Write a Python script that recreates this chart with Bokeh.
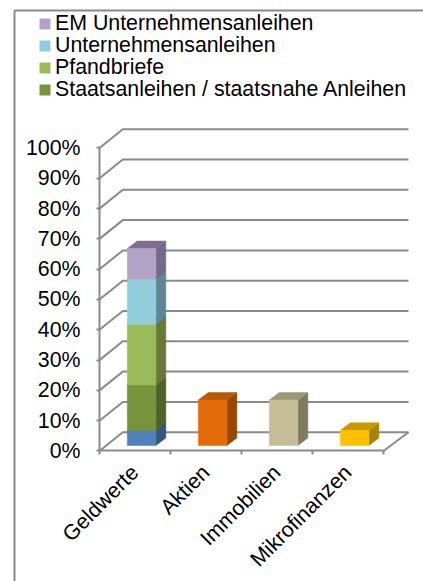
from bokeh.plotting import figure
from bokeh.embed import file_html
from bokeh.resources import INLINE
from bokeh.models import LinearAxis, FixedTicker, PrintfTickFormatter, Legend, LegendItem, Range1d

categories = ["Geldwerte", "Aktien", "Immobilien", "Mikrofinanzen"]
percent_ticks = [0, 10, 20, 30, 40, 50, 60, 70, 80, 90, 100]

# stacked segments of the first bar, bottom to top
basis = [5, 0, 0, 0]
staatsanleihen = [15, 0, 0, 0]
pfandbriefe = [20, 0, 0, 0]
unternehmensanleihen = [15, 0, 0, 0]
em_unternehmensanleihen = [10, 0, 0, 0]
aktien = [0, 15, 0, 0]
immobilien = [0, 0, 15, 0]
mikrofinanzen = [0, 0, 0, 5]

series = [
    (None, basis, "#4f81bd", "#35577f", "#35577f"),
    ("Staatsanleihen / staatsnahe Anleihen", staatsanleihen, "#77933c", "#4f6228", "#4f6228"),
    ("Pfandbriefe", pfandbriefe, "#9bbb59", "#66793b", "#66793b"),
    ("Unternehmensanleihen", unternehmensanleihen, "#92cddc", "#5f8693", "#5f8693"),
    ("EM Unternehmensanleihen", em_unternehmensanleihen, "#b2a2c7", "#75698a", "#7d6d90"),
    (None, aktien, "#e36c09", "#984807", "#b55a0a"),
    (None, immobilien, "#c4bd97", "#7f7b62", "#9c9779"),
    (None, mikrofinanzen, "#ffc000", "#a78400", "#c99a00"),
]

GRID = "#8a8a8a"
FONT = "Liberation Sans"
WALL_DX, WALL_DX_RIGHT, WALL_DY = 0.328, 0.352, 6.2  # oblique depth of the chart box, in data units
BAR_X, BAR_Y = 0.093, 1.8          # bar plane offset from the front of the box
BAR_W = 0.403
BAR_DX, BAR_DY = 0.14, 2.5         # bar depth
X_MIN, X_MAX, Y_MIN, Y_MAX = -1.3944, 4.5634, -43.07, 148.68
FRAME_X, FRAME_Y = -1.197, 145.4
LEGEND_ROWS = {
    "Staatsanleihen / staatsnahe Anleihen": 479,
    "Pfandbriefe": 501,
    "Unternehmensanleihen": 523,
    "EM Unternehmensanleihen": 545,
}

p = figure(width=423, height=581, output_backend="svg", toolbar_location=None,
           x_range=Range1d(X_MIN, X_MAX), y_range=Range1d(Y_MIN, Y_MAX),
           min_border=0, min_border_left=0, min_border_right=0, min_border_top=0, min_border_bottom=0,
           outline_line_color=None, x_axis_location=None, y_axis_location=None)
p.grid.visible = False

# outer frame: only its left and top sides are in view
p.line([FRAME_X, FRAME_X, X_MAX], [Y_MIN, FRAME_Y, FRAME_Y], line_color=GRID, line_width=2)

# oblique grid: wall lines and back lines
n = len(categories)
xs = [[0, WALL_DX, n + WALL_DX_RIGHT] for _ in percent_ticks]
ys = [[t, t + WALL_DY, t + WALL_DY] for t in percent_ticks]
xs.append([n, n + WALL_DX_RIGHT])
ys.append([0, WALL_DY])
p.multi_line(xs, ys, line_color=GRID, line_width=2)

# bars
totals = [0.0] * n
for name, vals, front, side, top in series:
    fl, fr, fb, ft = [], [], [], []
    sx, sy, tx, ty = [], [], [], []
    for i, v in enumerate(vals):
        if v == 0:
            continue
        cx = i + 0.5 + BAR_X
        l, r = cx - BAR_W / 2, cx + BAR_W / 2
        b = totals[i] + BAR_Y
        t = b + v
        totals[i] += v
        fl.append(l); fr.append(r); fb.append(b); ft.append(t)
        sx.append([r, r + BAR_DX, r + BAR_DX, r])
        sy.append([b, b + BAR_DY, t + BAR_DY, t])
        tx.append([l, l + BAR_DX, r + BAR_DX, r])
        ty.append([t, t + BAR_DY, t + BAR_DY, t])
    p.patches(sx, sy, fill_color=side, line_color=side, line_width=0.5)
    p.patches(tx, ty, fill_color=top, line_color=top, line_width=0.5)
    p.quad(left=fl, right=fr, bottom=fb, top=ft, fill_color=front, line_color=front, line_width=0.5,
           name=name or "")

# axes
yax = LinearAxis(fixed_location=0, ticker=FixedTicker(ticks=percent_ticks),
                 formatter=PrintfTickFormatter(format="%d%%"), bounds=(0, 100))
yax.axis_line_color = GRID
yax.axis_line_width = 2
yax.major_tick_line_color = GRID
yax.major_tick_line_width = 2
yax.major_tick_out = 3
yax.major_tick_in = 0
yax.minor_tick_line_color = None
yax.major_label_text_font = FONT
yax.major_label_text_font_size = "21.33px"
yax.major_label_text_color = "black"
yax.major_label_standoff = 16
p.add_layout(yax, "left")

xax = LinearAxis(fixed_location=0, ticker=FixedTicker(ticks=list(range(n + 1))), bounds=(0, n))
xax.axis_line_color = GRID
xax.axis_line_width = 2
xax.major_tick_line_color = GRID
xax.major_tick_line_width = 2
xax.major_tick_out = 4
xax.major_tick_in = 0
xax.minor_tick_line_color = None
xax.major_label_overrides = {i: "" for i in range(n + 1)}
p.add_layout(xax, "below")

lab = LinearAxis(fixed_location=0, ticker=FixedTicker(ticks=[i + 0.5 for i in range(n)]),
                 major_label_overrides={i + 0.5: c for i, c in enumerate(categories)})
lab.axis_line_color = None
lab.major_tick_line_color = None
lab.minor_tick_line_color = None
lab.major_label_orientation = 0.785
lab.major_label_text_font = FONT
lab.major_label_text_font_size = "21.33px"
lab.major_label_text_color = "black"
lab.major_label_standoff = 12
p.add_layout(lab, "below")

# legend: one single-row legend per entry, because the rows sit closer than a Legend's own row height
for r in list(p.renderers):
    nm = getattr(r, "name", "")
    if nm:
        p.add_layout(Legend(items=[LegendItem(label=nm, renderers=[r])], location=(38, LEGEND_ROWS[nm]),
                            background_fill_alpha=0, border_line_color=None, padding=0, margin=0,
                            glyph_width=13, glyph_height=13, label_standoff=4,
                            label_text_font=FONT, label_text_font_size="21.33px", label_text_color="black"))

open("out.html", "w").write(file_html(p, INLINE))
